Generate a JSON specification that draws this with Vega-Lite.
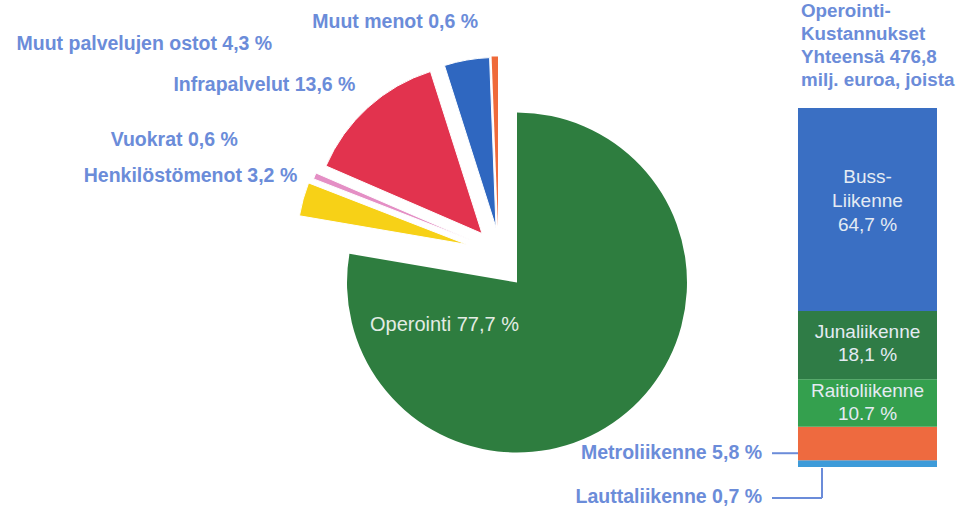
{
  "$schema": "https://vega.github.io/schema/vega-lite/v6.json",
  "width": 840,
  "height": 359,
  "autosize": {"type": "none"},
  "padding": {"left": 97, "top": 108, "right": 22, "bottom": 43},
  "background": "white",
  "config": {"view": {"stroke": null}, "font": "Liberation Sans"},
  "datasets": {
    "kulut": [
      {"kohde": "Operointi", "osuus": 77.7, "teksti": "Operointi 77,7 %"},
      {"kohde": "Henkilöstömenot", "osuus": 3.2, "teksti": "Henkilöstömenot  3,2 %"},
      {"kohde": "Vuokrat", "osuus": 0.6, "teksti": "Vuokrat 0,6 %"},
      {"kohde": "Infrapalvelut", "osuus": 13.6, "teksti": "Infrapalvelut 13,6 %"},
      {"kohde": "Muut palvelujen ostot", "osuus": 4.3, "teksti": "Muut palvelujen ostot  4,3 %"},
      {"kohde": "Muut menot", "osuus": 0.6, "teksti": "Muut menot 0,6 %"}
    ],
    "liikenne": [
      {"ryhma": "Operointikustannukset", "kohde": "Lauttaliikenne", "osuus": 0.7, "teksti": "Lauttaliikenne 0,7 %"},
      {"ryhma": "Operointikustannukset", "kohde": "Metroliikenne", "osuus": 5.8, "teksti": "Metroliikenne 5,8 %"},
      {"ryhma": "Operointikustannukset", "kohde": "Raitioliikenne", "osuus": 10.7, "teksti": "Raitioliikenne\n10.7 %"},
      {"ryhma": "Operointikustannukset", "kohde": "Junaliikenne", "osuus": 18.1, "teksti": "Junaliikenne\n18,1 %"},
      {"ryhma": "Operointikustannukset", "kohde": "Bussiliikenne", "osuus": 64.7, "teksti": "Buss-\nLiikenne\n64,7 %"}
    ]
  },
  "layer": [
    {
      "data": {"name": "kulut"},
      "transform": [{"stack": "osuus", "groupby": [], "as": ["t0", "t1"]}],
      "encoding": {
        "theta": {"field": "t0", "type": "quantitative", "scale": {"domain": [0, 100]}},
        "theta2": {"field": "t1"},
        "color": {
          "field": "kohde",
          "type": "nominal",
          "legend": null,
          "scale": {
            "domain": ["Operointi", "Henkilöstömenot", "Vuokrat", "Infrapalvelut", "Muut palvelujen ostot", "Muut menot", "Lauttaliikenne", "Metroliikenne", "Raitioliikenne", "Junaliikenne", "Bussiliikenne"],
            "range": ["#2e7d3f", "#f7d117", "#e48fc5", "#e2334e", "#2f67c0", "#ef6a3a", "#3d9bd9", "#ee6a3f", "#34a04e", "#2f7c46", "#3a6fc3"]
          }
        }
      },
      "layer": [
        {"transform": [{"filter": {"field": "kohde", "equal": "Operointi"}}], "mark": {"type": "arc", "outerRadius": 170, "yOffset": -5}},
        {"transform": [{"filter": {"field": "kohde", "equal": "Henkilöstömenot"}}], "mark": {"type": "arc", "outerRadius": 170, "xOffset": -50, "yOffset": -43, "stroke": "white", "strokeWidth": 1}},
        {"transform": [{"filter": {"field": "kohde", "equal": "Vuokrat"}}], "mark": {"type": "arc", "outerRadius": 170, "xOffset": -45, "yOffset": -47, "stroke": "white", "strokeWidth": 1}},
        {"transform": [{"filter": {"field": "kohde", "equal": "Infrapalvelut"}}], "mark": {"type": "arc", "outerRadius": 170, "xOffset": -35, "yOffset": -54, "stroke": "white", "strokeWidth": 1}},
        {"transform": [{"filter": {"field": "kohde", "equal": "Muut palvelujen ostot"}}], "mark": {"type": "arc", "outerRadius": 170, "xOffset": -21, "yOffset": -60, "stroke": "white", "strokeWidth": 1}},
        {"transform": [{"filter": {"field": "kohde", "equal": "Muut menot"}}], "mark": {"type": "arc", "outerRadius": 170, "xOffset": -19, "yOffset": -61}}
      ]
    },
    {
      "data": {"name": "kulut"},
      "transform": [{"stack": "osuus", "groupby": [], "as": ["t0", "t1"]}],
      "encoding": {
        "theta": {"field": "t1", "type": "quantitative"},
        "text": {"field": "teksti"}
      },
      "layer": [
        {"transform": [{"filter": {"field": "kohde", "equal": "Operointi"}}], "mark": {"type": "text", "radius": 100, "dx": 26, "dy": 54, "align": "center", "baseline": "middle", "fontSize": 20, "fill": "#e3ece4"}},
        {"transform": [{"filter": {"field": "kohde", "equal": "Henkilöstömenot"}}], "mark": {"type": "text", "radius": 180, "dx": -52, "dy": -46, "align": "right", "baseline": "middle", "fontSize": 19.5, "fontWeight": "bold", "fill": "#6b8cd9"}},
        {"transform": [{"filter": {"field": "kohde", "equal": "Vuokrat"}}], "mark": {"type": "text", "radius": 180, "dx": -114, "dy": -76, "align": "right", "baseline": "middle", "fontSize": 19.5, "fontWeight": "bold", "fill": "#6b8cd9"}},
        {"transform": [{"filter": {"field": "kohde", "equal": "Infrapalvelut"}}], "mark": {"type": "text", "radius": 180, "dx": -107, "dy": -31, "align": "right", "baseline": "middle", "fontSize": 19.5, "fontWeight": "bold", "fill": "#6b8cd9"}},
        {"transform": [{"filter": {"field": "kohde", "equal": "Muut palvelujen ostot"}}], "mark": {"type": "text", "radius": 180, "dx": -238, "dy": -64, "align": "right", "baseline": "middle", "fontSize": 19.5, "fontWeight": "bold", "fill": "#6b8cd9"}},
        {"transform": [{"filter": {"field": "kohde", "equal": "Muut menot"}}], "mark": {"type": "text", "radius": 180, "dx": -39, "dy": -86, "align": "right", "baseline": "middle", "fontSize": 19.5, "fontWeight": "bold", "fill": "#6b8cd9"}}
      ]
    },
    {
      "data": {"name": "liikenne"},
      "transform": [{"stack": "osuus", "groupby": ["ryhma"], "as": ["y0", "y1"]}],
      "layer": [
        {
          "mark": {"type": "bar"},
          "encoding": {
            "x": {"field": "ryhma", "type": "nominal", "axis": null, "scale": {"paddingInner": 0.6034, "paddingOuter": 1, "align": 1}},
            "y": {"field": "y0", "type": "quantitative", "axis": null, "scale": {"type": "pow", "exponent": 0.8, "domain": [0, 100], "nice": false, "zero": true}},
            "y2": {"field": "y1"},
            "color": {
              "field": "kohde",
              "type": "nominal",
              "legend": null,
              "scale": {
                "domain": ["Operointi", "Henkilöstömenot", "Vuokrat", "Infrapalvelut", "Muut palvelujen ostot", "Muut menot", "Lauttaliikenne", "Metroliikenne", "Raitioliikenne", "Junaliikenne", "Bussiliikenne"],
                "range": ["#2e7d3f", "#f7d117", "#e48fc5", "#e2334e", "#2f67c0", "#ef6a3a", "#3d9bd9", "#ee6a3f", "#34a04e", "#2f7c46", "#3a6fc3"]
              }
            }
          }
        },
        {
          "encoding": {
            "x": {"field": "ryhma", "type": "nominal"},
            "y": {"field": "y1", "type": "quantitative"},
            "text": {"field": "teksti"}
          },
          "layer": [
            {"transform": [{"filter": {"field": "kohde", "equal": "Bussiliikenne"}}], "mark": {"type": "text", "dy": 69, "align": "center", "baseline": "middle", "fontSize": 19, "lineHeight": 24, "lineBreak": "\n", "fill": "#e4ebf3"}},
            {"transform": [{"filter": {"field": "kohde", "equal": "Junaliikenne"}}], "mark": {"type": "text", "dy": 21, "align": "center", "baseline": "middle", "fontSize": 19, "lineHeight": 23, "lineBreak": "\n", "fill": "#e4ebf3"}},
            {"transform": [{"filter": {"field": "kohde", "equal": "Raitioliikenne"}}], "mark": {"type": "text", "dy": 12, "align": "center", "baseline": "middle", "fontSize": 19, "lineHeight": 23, "lineBreak": "\n", "fill": "#e4ebf3"}}
          ]
        },
        {
          "transform": [{"filter": {"field": "kohde", "equal": "Bussiliikenne"}}],
          "mark": {"type": "text", "dx": 3, "dy": -97, "align": "left", "baseline": "middle", "fontSize": 18.8, "fontWeight": "bold", "lineHeight": 23, "fill": "#6b8cd9"},
          "encoding": {
            "x": {"field": "ryhma", "type": "nominal", "bandPosition": 0},
            "y": {"field": "y1", "type": "quantitative"},
            "text": {"value": ["Operointi-", "Kustannukset", "Yhteensä 476,8", "milj. euroa, joista"]}
          }
        },
        {
          "encoding": {
            "x": {"field": "ryhma", "type": "nominal", "bandPosition": 0},
            "y": {"field": "y0", "type": "quantitative"},
            "text": {"field": "teksti"}
          },
          "layer": [
            {"transform": [{"filter": {"field": "kohde", "equal": "Metroliikenne"}}], "mark": {"type": "text", "dx": -36, "dy": -7, "align": "right", "baseline": "middle", "fontSize": 19.5, "fontWeight": "bold", "fill": "#6b8cd9"}},
            {"transform": [{"filter": {"field": "kohde", "equal": "Lauttaliikenne"}}], "mark": {"type": "text", "dx": -36, "dy": 30, "align": "right", "baseline": "middle", "fontSize": 19.5, "fontWeight": "bold", "fill": "#6b8cd9"}}
          ]
        },
        {
          "transform": [{"filter": {"field": "kohde", "equal": "Metroliikenne"}}],
          "mark": {"type": "rule", "xOffset": -95.5, "x2Offset": -69.5, "yOffset": -7, "stroke": "#6b8cd9", "strokeWidth": 2},
          "encoding": {
            "x": {"field": "ryhma", "type": "nominal"},
            "x2": {"field": "ryhma"},
            "y": {"field": "y0", "type": "quantitative"}
          }
        },
        {
          "transform": [{"filter": {"field": "kohde", "equal": "Lauttaliikenne"}}],
          "mark": {"type": "rule", "xOffset": -95.5, "x2Offset": -45.5, "yOffset": 31, "stroke": "#6b8cd9", "strokeWidth": 2},
          "encoding": {
            "x": {"field": "ryhma", "type": "nominal"},
            "x2": {"field": "ryhma"},
            "y": {"field": "y0", "type": "quantitative"}
          }
        },
        {
          "transform": [{"filter": {"field": "kohde", "equal": "Lauttaliikenne"}}],
          "mark": {"type": "rule", "xOffset": -45.5, "yOffset": 1, "y2Offset": 31, "stroke": "#6b8cd9", "strokeWidth": 2},
          "encoding": {
            "x": {"field": "ryhma", "type": "nominal"},
            "y": {"field": "y0", "type": "quantitative"},
            "y2": {"field": "y0"}
          }
        }
      ]
    }
  ]
}
